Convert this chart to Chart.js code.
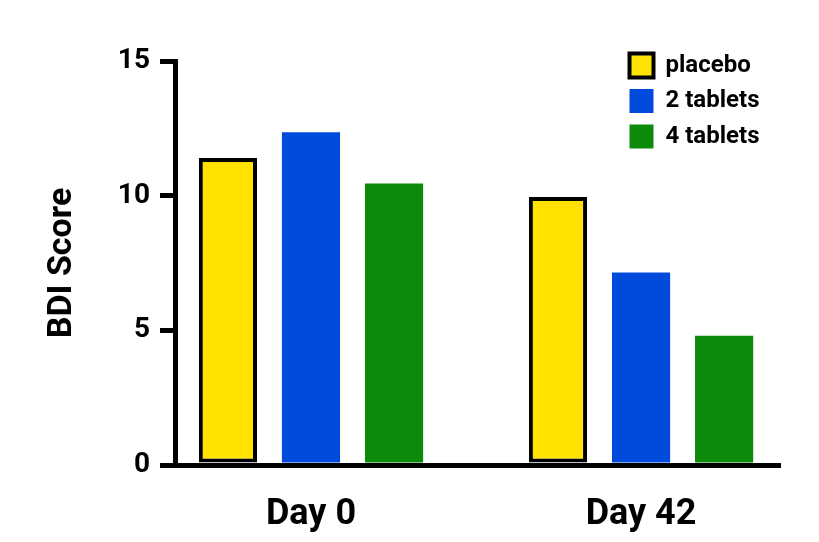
<!DOCTYPE html>
<html>
<head>
<meta charset="utf-8">
<script src="https://cdn.jsdelivr.net/npm/chart.js@4"></script>
<style>
  html, body { margin: 0; padding: 0; background: #fff; }
  #wrap { width: 819px; height: 542px; }
</style>
</head>
<body>
<div id="wrap"><canvas id="myChart" width="819" height="542"></canvas></div>
<script>
// data
const days = ['Day 0', 'Day 42'];
const placebo = [11.4, 9.95];
const twoTablets = [12.35, 7.15];
const fourTablets = [10.45, 4.8];
const yTicks = [0, 5, 10, 15];

const FONT = 'Roboto';

// bars sit on a linear x so the two groups can be placed freely
function points(vals) {
    return vals.map((v, i) => ({ x: i, y: v }));
}

// move the chart.js legend to the top right corner of the plot
const legendPlacer = {
    id: 'legendPlacer',
    afterLayout(chart) {
        const lg = chart.legend;
        if (!lg) return;
        const w = lg.width, h = lg.height;
        lg.left = 618; lg.top = 42;
        lg.right = lg.left + w; lg.bottom = lg.top + h;
    }
};

var ctx = document.getElementById('myChart').getContext('2d');
var chart = new Chart(ctx, {
    type: 'bar',
    data: {
        datasets: [
            { label: 'placebo', data: points(placebo), backgroundColor: 'rgb(255,226,0)', borderColor: '#000', borderWidth: 4, borderSkipped: false },
            { label: '2 tablets', data: points(twoTablets), backgroundColor: 'rgb(0,75,220)', borderWidth: 0 },
            { label: '4 tablets', data: points(fourTablets), backgroundColor: 'rgb(12,138,10)', borderWidth: 0 }
        ]
    },
    options: {
        responsive: false,
        animation: false,
        categoryPercentage: 0.755,
        barPercentage: 0.7,
        layout: { padding: { top: 61, right: 39, bottom: 0, left: 0 } },
        plugins: {
            tooltip: { enabled: false },
            legend: {
                position: 'chartArea',
                align: 'start',
                labels: {
                    color: '#000',
                    font: { family: FONT, size: 24, weight: 'bold' },
                    boxWidth: 24,
                    boxHeight: 24,
                    padding: 11.5
                }
            }
        },
        scales: {
            x: {
                type: 'linear',
                offset: false,
                min: -0.412,
                max: 1.421,
                afterBuildTicks: (axis) => { axis.ticks = days.map((d, i) => ({ value: i })); },
                afterFit: (axis) => { axis.height = 77; },
                grid: { display: false },
                border: { display: true, color: '#000', width: 5 },
                ticks: {
                    color: '#000',
                    padding: 20,
                    font: { family: FONT, size: 36, weight: 'bold' },
                    callback: (v) => days[v]
                }
            },
            y: {
                min: 0,
                max: 15,
                afterBuildTicks: (axis) => { axis.ticks = yTicks.map(v => ({ value: v })); },
                afterFit: (axis) => { axis.width = 175; },
                grid: { drawOnChartArea: false, color: '#000', lineWidth: 5, tickLength: 15, tickWidth: 5 },
                border: { color: '#000', width: 5 },
                ticks: {
                    color: '#000',
                    padding: 10,
                    font: { family: FONT, size: 28, weight: 'bold' }
                },
                title: {
                    display: true,
                    text: 'BDI Score',
                    color: '#000',
                    font: { family: FONT, size: 34, weight: 'bold' },
                    padding: { top: 42, bottom: 0 }
                }
            }
        }
    },
    plugins: [legendPlacer]
});
</script>
</body>
</html>
